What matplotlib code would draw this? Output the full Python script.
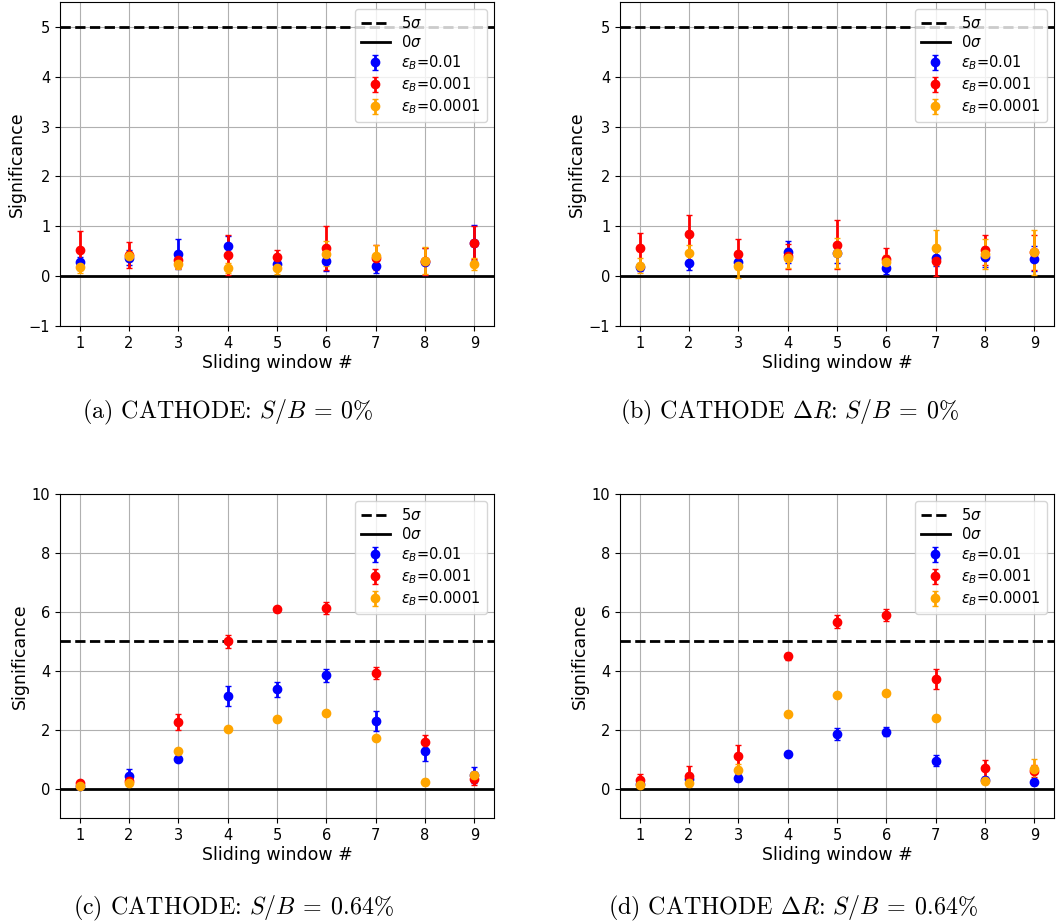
import matplotlib
matplotlib.use('Agg')
import numpy as np
import matplotlib.pyplot as plt

plt.rcParams['mathtext.fontset'] = 'dejavusans'

# --- Dados ---
windows = [1, 2, 3, 4, 5, 6, 7, 8, 9]
eps_labels = [r'$\epsilon_B$=0.01', r'$\epsilon_B$=0.001', r'$\epsilon_B$=0.0001']
eps_colors = ['blue', 'red', 'orange']

# (a) CATHODE, S/B = 0%
a_vals = [[0.29, 0.37, 0.45, 0.61, 0.25, 0.31, 0.21, 0.29, 0.67],
          [0.52, 0.43, 0.32, 0.43, 0.39, 0.57, 0.37, 0.30, 0.67],
          [0.19, 0.41, 0.24, 0.17, 0.17, 0.45, 0.40, 0.31, 0.24]]
a_errs = [[0.10, 0.15, 0.30, 0.20, 0.10, 0.20, 0.15, 0.27, 0.35],
          [0.39, 0.26, 0.15, 0.40, 0.14, 0.44, 0.25, 0.27, 0.33],
          [0.12, 0.10, 0.10, 0.10, 0.12, 0.25, 0.23, 0.27, 0.12]]

# (b) CATHODE dR, S/B = 0%
b_vals = [[0.19, 0.27, 0.28, 0.48, 0.47, 0.17, 0.36, 0.39, 0.35],
          [0.56, 0.85, 0.45, 0.40, 0.63, 0.35, 0.31, 0.52, 0.48],
          [0.21, 0.47, 0.21, 0.37, 0.47, 0.28, 0.57, 0.44, 0.48]]
b_errs = [[0.08, 0.15, 0.10, 0.22, 0.20, 0.12, 0.15, 0.20, 0.25],
          [0.31, 0.38, 0.30, 0.25, 0.49, 0.22, 0.31, 0.30, 0.35],
          [0.15, 0.15, 0.25, 0.20, 0.30, 0.15, 0.35, 0.30, 0.45]]

# (c) CATHODE, S/B = 0.64%
c_vals = [[0.10, 0.44, 1.02, 3.15, 3.37, 3.85, 2.30, 1.29, 0.46],
          [0.19, 0.25, 2.26, 5.00, 6.09, 6.13, 3.92, 1.59, 0.33],
          [0.08, 0.18, 1.27, 2.03, 2.35, 2.57, 1.73, 0.22, 0.46]]
c_errs = [[0.05, 0.22, 0.08, 0.34, 0.25, 0.22, 0.34, 0.37, 0.26],
          [0.05, 0.10, 0.26, 0.22, 0.08, 0.21, 0.21, 0.22, 0.20],
          [0.05, 0.05, 0.08, 0.05, 0.05, 0.05, 0.05, 0.10, 0.10]]

# (d) CATHODE dR, S/B = 0.64%
d_vals = [[0.15, 0.33, 0.36, 1.18, 1.86, 1.93, 0.95, 0.28, 0.22],
          [0.28, 0.44, 1.10, 4.49, 5.67, 5.88, 3.71, 0.69, 0.59],
          [0.11, 0.18, 0.63, 2.53, 3.17, 3.25, 2.38, 0.24, 0.65]]
d_errs = [[0.05, 0.10, 0.12, 0.05, 0.20, 0.15, 0.18, 0.10, 0.10],
          [0.20, 0.34, 0.38, 0.12, 0.21, 0.20, 0.34, 0.29, 0.20],
          [0.05, 0.10, 0.20, 0.05, 0.05, 0.05, 0.05, 0.10, 0.34]]

captions = [r'(a) CATHODE: $S/B\:=\:0\%$',
            r'(b) CATHODE $\Delta R$: $S/B\:=\:0\%$',
            r'(c) CATHODE: $S/B\:=\:0.64\%$',
            r'(d) CATHODE $\Delta R$: $S/B\:=\:0.64\%$']

panels = [(a_vals, a_errs, (-1, 5.5), [-1, 0, 1, 2, 3, 4, 5]),
          (b_vals, b_errs, (-1, 5.5), [-1, 0, 1, 2, 3, 4, 5]),
          (c_vals, c_errs, (-1, 10), [0, 2, 4, 6, 8, 10]),
          (d_vals, d_errs, (-1, 10), [0, 2, 4, 6, 8, 10])]

# posicoes em pixels: (esquerda, baixo)
W, H = 1057, 924
boxes = [(60, 326), (620, 326), (60, 818), (620, 818)]
ax_w, ax_h = 434, 324
cap_pos = [(228, 412), (790, 412), (233, 908), (793, 908)]

fig = plt.figure(figsize=(W / 100, H / 100), dpi=100)

for i, (vals, errs, ylim, yticks) in enumerate(panels):
    left, bottom = boxes[i]
    ax = fig.add_axes([left / W, (H - bottom) / H, ax_w / W, ax_h / H])
    ax.axhline(5, color='k', linestyle='--', linewidth=2, label=r'5$\sigma$')
    ax.axhline(0, color='k', linestyle='-', linewidth=2, label=r'0$\sigma$')
    for v, e, c, lab in zip(vals, errs, eps_colors, eps_labels):
        ax.errorbar(windows, v, yerr=e, fmt='o', color=c, ecolor=c,
                    markersize=6, elinewidth=2, capsize=2, label=lab)
    ax.set_ylim(ylim)
    ax.set_yticks(yticks)
    ax.set_xticks(windows)
    ax.grid(True)
    ax.tick_params(labelsize=10.5)
    ax.set_xlabel('Sliding window #', fontsize=12.5, labelpad=2)
    ax.set_ylabel('Significance', fontsize=12.5, labelpad=2)
    ax.legend(loc='upper right', fontsize=10.5, labelspacing=0.22)

    cx, cy = cap_pos[i]
    fig.text(cx / W, (H - cy) / H, captions[i], ha='center', va='center',
             fontsize=17.3, family='cmr10', math_fontfamily='cm')

fig.savefig('out.png', dpi=100)
